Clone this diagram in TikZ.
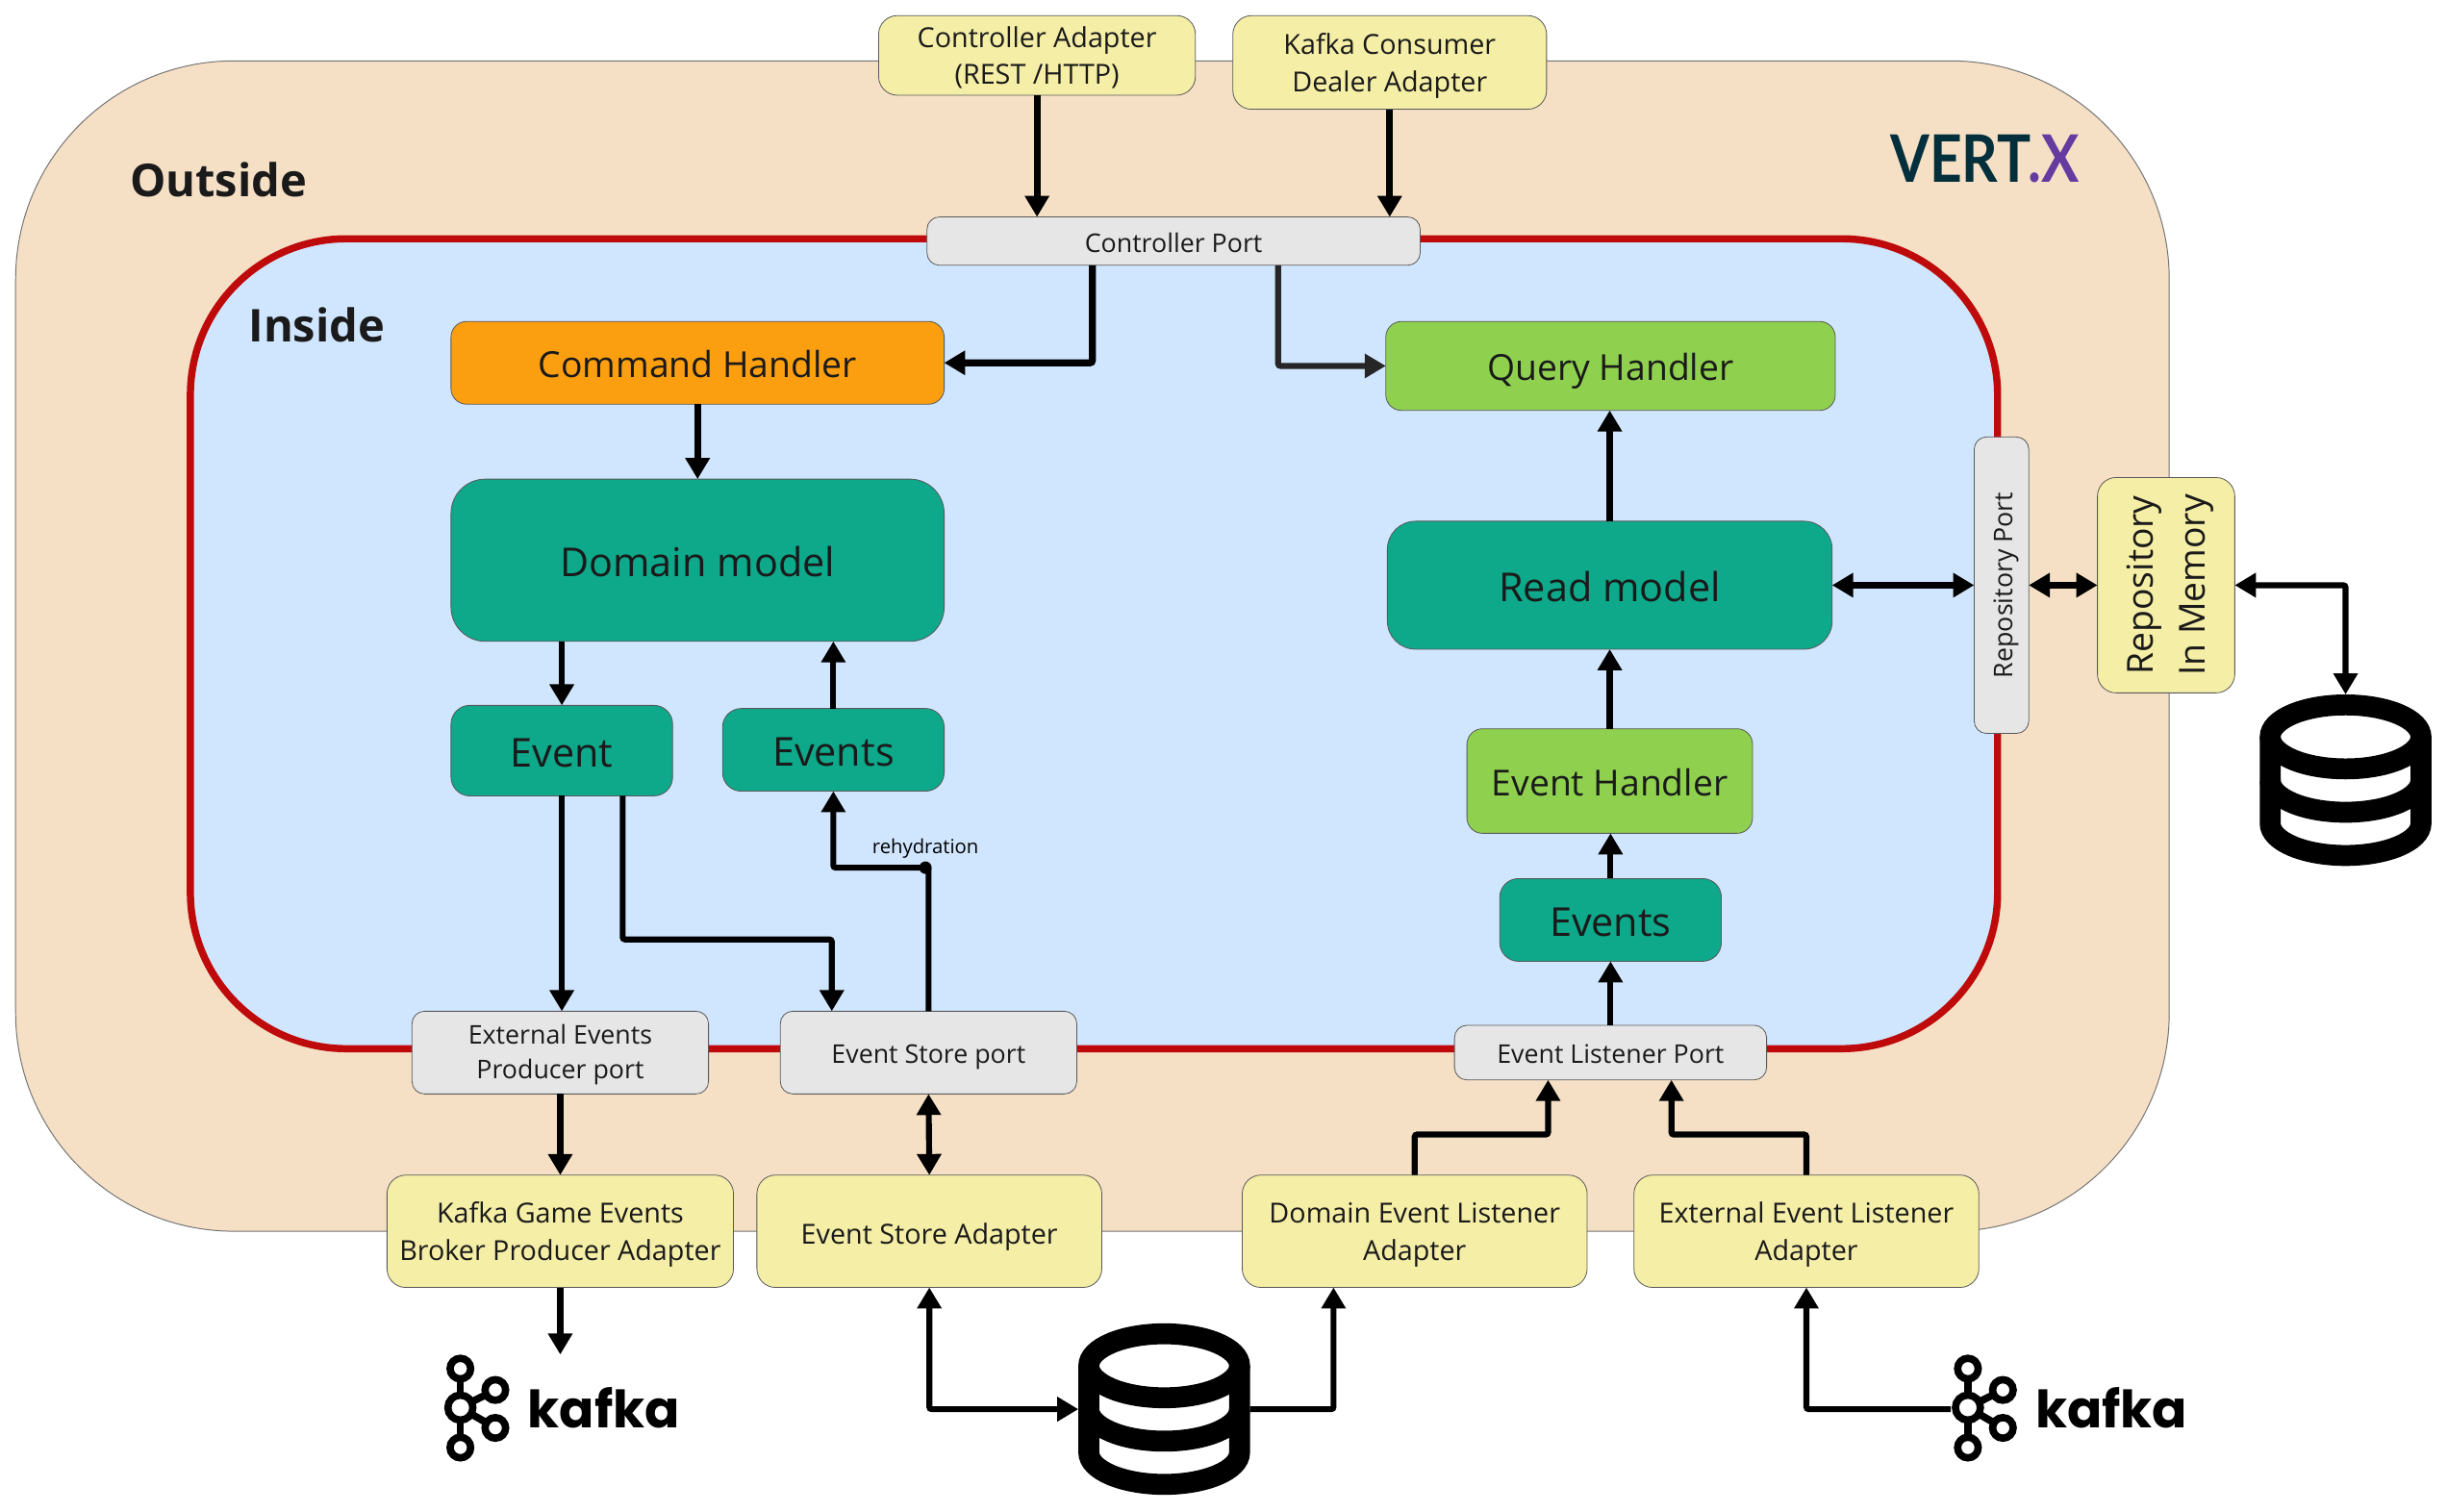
\documentclass[tikz,border=0pt]{standalone}
\usepackage{fontspec}
\setmainfont{Open Sans}
\newfontfamily\logofont{Lato}
\newfontfamily\kafkafont{Poppins}
\usetikzlibrary{positioning, arrows.meta}
\definecolor{outsidefill}{HTML}{F5E0C6}
\definecolor{insidefill}{HTML}{D0E6FF}
\definecolor{insidered}{HTML}{BE0A0A}
\definecolor{adapterfill}{HTML}{F5EEA6}
\definecolor{portfill}{HTML}{E6E6E6}
\definecolor{tealfill}{HTML}{0EA88A}
\definecolor{greenfill}{HTML}{8FD14F}
\definecolor{orangefill}{HTML}{FB9F11}
\definecolor{vertdark}{HTML}{022F3B}
\definecolor{vertpurple}{HTML}{653BA0}
\definecolor{inktext}{HTML}{1A1A1A}

\tikzset{
	box/.style={draw=black!65, line width=.5pt, inner sep=0pt, outer sep=0pt, align=center, text=inktext, execute at begin node=\strut},
	adapter/.style={box, text depth=-4.2pt, fill=adapterfill, rounded corners=12pt, font=\fontsize{17.7}{24}\selectfont},
	port/.style={box, text depth=1.4pt, fill=portfill, rounded corners=8pt, font=\fontsize{16.5}{22}\selectfont},
	teal/.style={box, text depth=-1.5pt, fill=tealfill, rounded corners=12pt, font=\fontsize{25.5}{30}\selectfont},
	handler/.style={box, text depth=2pt, rounded corners=10pt, font=\fontsize{23}{30}\selectfont},
	link/.style={line width=3.8pt, rounded corners=1.5pt, black, >={Triangle[length=13.5pt,width=15pt]}},
	biglabel/.style={font=\fontsize{29}{34}\selectfont\bfseries, text=inktext},
	pics/dbicon/.style={code={
		\draw[line width=13.4pt, black] (0,-27.8) ellipse (48.3pt and 20.5pt);
		\draw[line width=13.4pt, black] (-48.3,-27.8) -- (-48.3,27.7) arc (180:360:48.3pt and 20.5pt) -- (48.3,-27.8);
		\draw[line width=13.4pt, black] (-48.3,0) arc (180:360:48.3pt and 20.5pt);
	}},
	pics/kafkaicon/.style={code={
		\draw[line width=4.7pt, black] (0,-25) -- (0,25);
		\draw[line width=4.7pt, black] (0,0) -- (22.4,-11.3) (0,0) -- (22.4,13);
		\foreach \cx/\cy in {0/-25, 0/25.6, 22.4/-11.3, 22.4/13}
			\draw[line width=4.7pt, black, fill=white] (\cx,\cy) circle (6.6pt);
		\draw[line width=4.7pt, black, fill=white] (0,0) circle (8pt);
		\node[anchor=west, inner sep=0pt, font=\fontsize{33}{33}\selectfont\kafkafont\bfseries] at (43,0) {kafka};
	}},
}

\begin{document}
\begin{tikzpicture}[x=1pt, y=-1pt]
	\useasboundingbox (0,0) rectangle (1568,968.3);

	% Fondos
	\draw[draw=black!55, line width=.6pt, fill=outsidefill, rounded corners=140pt] (10,39) rectangle (1390,789);
	\draw[draw=insidered, line width=4.6pt, fill=insidefill, rounded corners=100pt] (122,153) rectangle (1280,672);
	\node[biglabel] (outside) at (140,115) {Outside};
	\node[biglabel] (inside) at (203,208) {Inside};

	% Logo
	\node[inner sep=0pt, xscale=.86, font=\fontsize{42}{42}\selectfont\logofont\bfseries] (vertlogo) at (1272,101.5)
		{\textcolor{vertdark}{VERT}\hspace{-2pt}\textcolor{vertpurple}{.X}};

	% Adaptadores
	\node[adapter, minimum width=203pt, minimum height=51pt] (ctrladapter) at (664.5,35.5) {Controller Adapter\\(REST /HTTP)};
	\node[adapter, minimum width=201pt, minimum height=60pt] (consumer) at (890.5,40) {Kafka Consumer\\Dealer Adapter};
	\node[adapter, minimum width=222pt, minimum height=72pt] (producer) at (359,789) {Kafka Game Events\\Broker Producer Adapter};
	\node[adapter, minimum width=221pt, minimum height=72pt] (storeadapter) at (595.5,789) {Event Store Adapter};
	\node[adapter, minimum width=221pt, minimum height=72pt] (domainlistener) at (906.5,789) {Domain Event Listener\\Adapter};
	\node[adapter, minimum width=221pt, minimum height=72pt] (extlistener) at (1157.5,789) {External Event Listener\\Adapter};
	\node[adapter, text depth=-3.9pt, rotate=90, minimum width=138pt, minimum height=88pt, font=\fontsize{23}{33}\selectfont] (repo) at (1388,375) {Repository\\In Memory};

	% Puertos
	\node[port, minimum width=316pt, minimum height=31pt] (ctrlport) at (752,154.5) {Controller Port};
	\node[port, minimum width=190pt, minimum height=53pt] (extport) at (359,674.5) {External Events\\Producer port};
	\node[port, minimum width=190pt, minimum height=53pt] (storeport) at (595,674.5) {Event Store port};
	\node[port, minimum width=200pt, minimum height=35pt] (listenport) at (1032,674.5) {Event Listener Port};
	\node[port, rotate=90, minimum width=190pt, minimum height=35pt] (repoport) at (1282.5,375) {Repository Port};

	% Cajas
	\node[handler, fill=orangefill, minimum width=316pt, minimum height=53pt] (cmdhandler) at (447,232.5) {Command Handler};
	\node[handler, fill=greenfill, minimum width=288pt, minimum height=57pt] (queryhandler) at (1032,234.5) {Query Handler};
	\node[teal, rounded corners=22pt, minimum width=316pt, minimum height=104pt] (domain) at (447,359) {Domain model};
	\node[teal, minimum width=142pt, minimum height=58pt] (event) at (360,481) {Event};
	\node[teal, minimum width=142pt, minimum height=53pt] (events) at (534,480.5) {Events};
	\node[teal, rounded corners=18pt, minimum width=285pt, minimum height=82pt] (readmodel) at (1031.5,375) {Read model};
	\node[handler, fill=greenfill, minimum width=183pt, minimum height=67pt] (evhandler) at (1031.5,500.5) {Event Handler};
	\node[teal, minimum width=142pt, minimum height=53pt] (readevents) at (1032,589.5) {Events};

	% Iconos
	\node[minimum size=110pt, inner sep=0pt, outer sep=0pt] (dbbottom) at (746,903) {};
	\pic at (dbbottom) {dbicon};
	\node[minimum size=110pt, inner sep=0pt, outer sep=0pt] (dbright) at (1503,500) {};
	\pic at (dbright) {dbicon};
	\pic at (295,902) {kafkaicon};
	\pic at (1261,902) {kafkaicon};
	\coordinate (kafkaleft) at (360,868);
	\coordinate (kafkaright) at (1250,903);
	\coordinate (rehydot) at (593,556);
	\coordinate (eventbend) at (399,602);
	\coordinate (listenbend) at (992,727);

	% Flechas
	\draw[link, ->, line width=4.4pt] (ctrladapter.south) -- (ctrladapter.south |- ctrlport.north);
	\draw[link, ->, line width=4.4pt] (consumer.south) -- (consumer.south |- ctrlport.north);
	\draw[link, ->, line width=4.4pt] ([xshift=-52pt]ctrlport.south) |- (cmdhandler.east);
	\draw[link, ->, black!85] ([xshift=67pt]ctrlport.south) |- (queryhandler.west);
	\draw[link, ->, line width=4.4pt] (cmdhandler.south) -- (domain.north);
	\draw[link, ->] ([xshift=-87pt]domain.south) -- (event.north);
	\draw[link, ->] (events.north) -- (events.north |- domain.south);
	\draw[link, ->] (event.south) -- (event.south |- extport.north);
	\draw[link, ->] ([xshift=39pt]event.south) |- (eventbend) -| ([xshift=-62pt]storeport.north);
	\draw[link, ->] (storeport.north) -- (storeport.north |- rehydot) -| (events.south);
	\fill[black] (rehydot) circle (4pt);
	\node[font=\fontsize{12.5}{15}\selectfont, text=black] (rehylabel) at (593,543.5) {rehydration};
	\draw[link, <->] (storeport.south) -- (storeadapter.north);
	\draw[link, ->] (extport.south) -- (producer.north);
	\draw[link, ->] (producer.south) -- (producer.south |- kafkaleft);
	\draw[link, <->] (storeadapter.south) |- (dbbottom.west);
	\draw[link, ->] (dbbottom.east) -| ([xshift=-52pt]domainlistener.south);
	\draw[link, ->] (kafkaright) -| (extlistener.south);
	\draw[link, ->] (domainlistener.north) |- (listenbend) -- (listenbend |- listenport.south);
	\draw[link, ->] (extlistener.north) |- ([xshift=39pt,yshift=-35pt]listenport.south) -- ([xshift=39pt]listenport.south);
	\draw[link, ->] (listenport.north) -- (readevents.south);
	\draw[link, ->] (readevents.north) -- (readevents.north |- evhandler.south);
	\draw[link, ->] (evhandler.north) -- (evhandler.north |- readmodel.south);
	\draw[link, ->] (readmodel.north) -- (readmodel.north |- queryhandler.south);
	\draw[link, <->] (readmodel.east) -- (repoport.north);
	\draw[link, <->] (repoport.south) -- (repo.north);
	\draw[link, <->] (repo.south) -| (dbright.north);
\end{tikzpicture}
\end{document}
